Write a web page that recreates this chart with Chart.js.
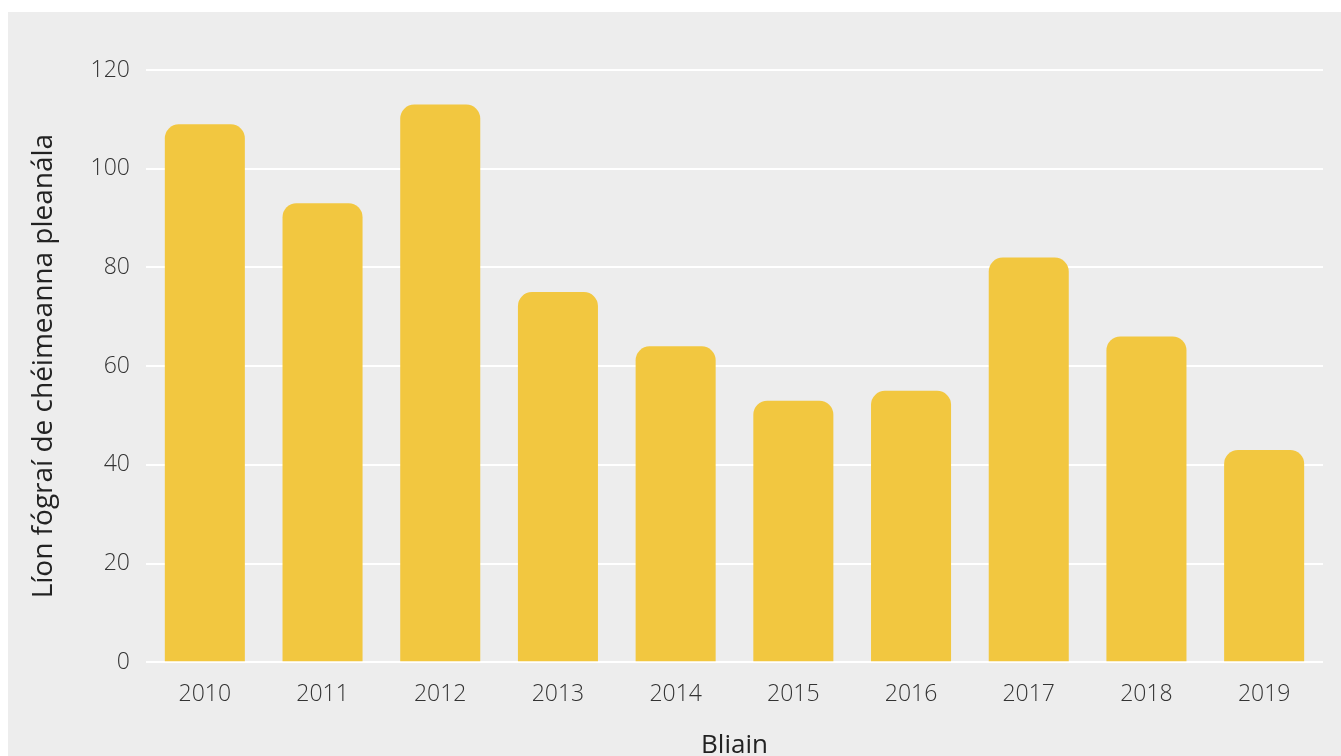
<!DOCTYPE html>
<html>
<head>
<meta charset="utf-8">
<script src="https://cdn.jsdelivr.net/npm/chart.js@4"></script>
<style>
  html, body { margin: 0; padding: 0; background: #ffffff; overflow: hidden; }
  #wrap {
    position: absolute; left: 8px; top: 12px;
    width: 1333px; height: 775px;
    background: #ededed;
  }
</style>
</head>
<body>
<div id="wrap"><canvas id="barChart"></canvas></div>
<script>
// dados
const years = ["2010", "2011", "2012", "2013", "2014", "2015", "2016", "2017", "2018", "2019"];
const notices = [109, 93, 113, 75, 64, 53, 55, 82, 66, 43];
const yTitle = "Líon fógraí de chéimeanna pleanála";
const xTitle = "Bliain";

const fontFamily = "'Open Sans', 'Noto Sans', sans-serif";

document.addEventListener("DOMContentLoaded", function () {
  const ctx = document.getElementById("barChart").getContext("2d");

  new Chart(ctx, {
    type: "bar",
    data: {
      labels: years,
      datasets: [{
        label: yTitle,
        data: notices,
        backgroundColor: "#f2c740",
        borderRadius: { topLeft: 14, topRight: 14, bottomLeft: 0, bottomRight: 0 },
        borderSkipped: false,
        barPercentage: 0.68,
        categoryPercentage: 1
      }]
    },
    options: {
      responsive: true,
      maintainAspectRatio: false,
      animation: false,
      layout: {
        padding: { top: 58, right: 18, left: 15, bottom: 22 }
      },
      plugins: {
        legend: { display: false },
        tooltip: { enabled: false }
      },
      scales: {
        x: {
          grid: { display: false },
          border: { display: false },
          ticks: {
            color: "#333333",
            padding: 10,
            font: { family: fontFamily, size: 23, weight: "300" }
          },
          title: {
            display: true,
            text: xTitle,
            color: "#222222",
            padding: { top: 12 },
            font: { family: fontFamily, size: 26 }
          }
        },
        y: {
          min: 0,
          max: 120,
          ticks: {
            stepSize: 20,
            color: "#333333",
            padding: 16,
            font: { family: fontFamily, size: 23, weight: "300" }
          },
          grid: {
            color: "#ffffff",
            lineWidth: 2,
            drawTicks: false
          },
          border: { display: false },
          title: {
            display: true,
            text: yTitle,
            color: "#222222",
            padding: { bottom: 14 },
            font: { family: fontFamily, size: 28 }
          }
        }
      }
    }
  });
});
</script>
</body>
</html>
